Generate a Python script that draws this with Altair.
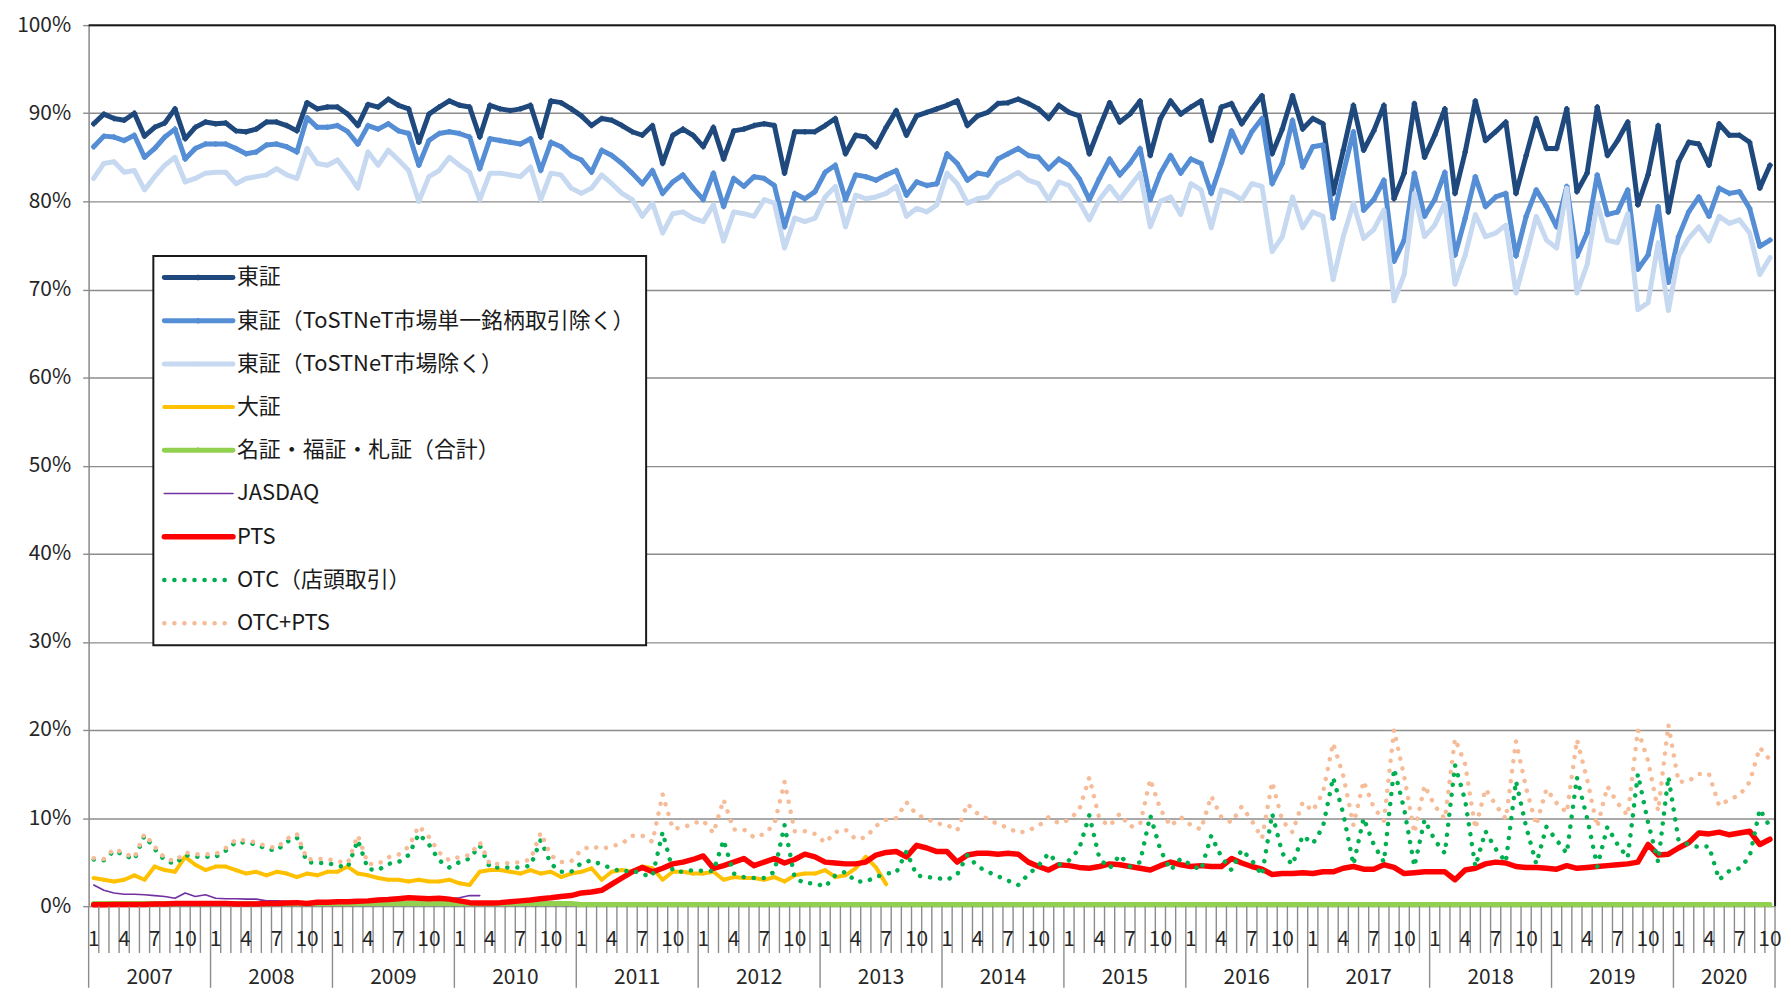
import altair as alt
import pandas as pd

# ---------------- data (monthly, Jan 2007 .. Oct 2020) ----------------
start_year = 2007
n_months = 166
years = list(range(2007, 2021))
shown_months = [1, 4, 7, 10]

tse = [
    88.8, 89.9, 89.4, 89.2, 90.0, 87.4, 88.4, 88.9, 90.5, 87.1, 88.4, 89.0,
    88.8, 88.9, 88.0, 87.9, 88.2, 89.0, 89.0, 88.6, 88.0, 91.2, 90.5, 90.7,
    90.7, 89.9, 88.6, 91.0, 90.7, 91.6, 90.9, 90.5, 86.7, 89.9, 90.7, 91.4,
    90.9, 90.7, 87.3, 90.9, 90.5, 90.3, 90.5, 90.9, 87.3, 91.4, 91.2, 90.5,
    89.7, 88.6, 89.4, 89.2, 88.6, 87.9, 87.5, 88.6, 84.3, 87.5, 88.2, 87.5,
    86.2, 88.4, 84.8, 88.0, 88.2, 88.6, 88.8, 88.6, 83.2, 87.9, 87.9, 87.9,
    88.6, 89.4, 85.4, 87.5, 87.3, 86.2, 88.4, 90.3, 87.5, 89.7, 90.1, 90.5,
    90.9, 91.4, 88.6, 89.7, 90.1, 91.1, 91.2, 91.6, 91.1, 90.5, 89.4, 90.9,
    90.1, 89.7, 85.4, 88.4, 91.2, 89.0, 89.9, 91.4, 85.2, 89.4, 91.4, 89.9,
    90.7, 91.4, 86.9, 90.7, 91.1, 88.8, 90.5, 92.0, 85.4, 88.2, 92.0, 88.2,
    89.4, 88.8, 80.9, 85.8, 90.9, 85.8, 88.0, 90.9, 80.3, 83.2, 91.1, 85.0,
    87.5, 90.5, 80.9, 85.6, 91.4, 86.9, 87.9, 89.0, 80.9, 85.2, 89.4, 86.0,
    86.0, 90.5, 81.1, 83.2, 90.7, 85.2, 86.9, 89.0, 79.6, 83.0, 88.6, 78.8,
    84.5, 86.7, 86.5, 84.1, 88.8, 87.5, 87.5, 86.7, 81.5, 84.1,
]

tse_ex_single = [
    86.2, 87.4, 87.3, 86.9, 87.5, 85.0, 86.0, 87.3, 88.2, 84.8, 86.0, 86.5,
    86.5, 86.5, 86.0, 85.4, 85.6, 86.4, 86.5, 86.2, 85.6, 89.5, 88.4, 88.4,
    88.6, 87.9, 86.5, 88.6, 88.2, 88.8, 88.0, 87.7, 84.1, 86.9, 87.7, 87.9,
    87.7, 87.3, 83.7, 87.1, 86.9, 86.7, 86.5, 87.1, 83.5, 86.7, 86.2, 85.2,
    84.7, 83.3, 85.8, 85.2, 84.3, 83.2, 82.0, 83.5, 80.9, 82.2, 83.0, 81.5,
    80.2, 83.2, 79.4, 82.6, 81.7, 82.8, 82.6, 81.8, 77.1, 80.9, 80.3, 81.1,
    83.3, 84.1, 80.2, 83.0, 82.8, 82.4, 83.0, 83.5, 80.7, 82.2, 81.8, 82.0,
    85.4, 84.3, 82.4, 83.2, 83.0, 84.8, 85.4, 86.0, 85.2, 85.0, 83.7, 84.8,
    84.1, 82.6, 80.2, 82.6, 84.8, 83.0, 84.3, 86.0, 80.2, 83.2, 85.2, 83.2,
    84.8, 84.3, 80.9, 84.3, 88.0, 85.6, 87.9, 89.4, 82.0, 84.3, 89.2, 83.9,
    86.2, 86.4, 78.1, 83.2, 87.9, 79.0, 80.2, 82.4, 73.2, 75.6, 83.2, 78.3,
    80.2, 83.3, 73.9, 78.1, 82.8, 79.4, 80.5, 80.9, 73.8, 78.3, 81.3, 79.4,
    77.1, 81.7, 73.8, 76.4, 83.0, 78.5, 78.8, 81.3, 72.3, 73.9, 79.4, 70.8,
    76.0, 78.8, 80.5, 78.3, 81.5, 80.9, 81.1, 79.2, 74.9, 75.6,
]

tse_ex_tostnet = [
    82.6, 84.3, 84.5, 83.3, 83.5, 81.3, 82.8, 84.1, 85.0, 82.2, 82.6, 83.2,
    83.3, 83.3, 82.0, 82.6, 82.8, 83.0, 83.7, 83.0, 82.6, 86.0, 84.3, 84.1,
    84.7, 83.2, 81.5, 85.6, 84.1, 85.8, 84.7, 83.5, 80.0, 82.8, 83.5, 85.0,
    84.1, 83.3, 80.2, 83.2, 83.2, 83.0, 82.8, 83.9, 80.2, 83.2, 83.0, 81.5,
    80.9, 81.5, 83.0, 82.0, 80.9, 80.2, 78.3, 79.8, 76.4, 78.6, 78.8, 78.1,
    77.7, 79.6, 75.5, 78.8, 78.6, 78.3, 80.2, 79.8, 74.7, 78.1, 77.7, 78.1,
    80.5, 81.7, 77.1, 80.7, 80.3, 80.5, 80.9, 81.7, 78.3, 79.2, 78.8, 79.6,
    83.2, 82.0, 79.8, 80.3, 80.5, 82.0, 82.6, 83.3, 82.4, 82.0, 80.2, 82.2,
    81.8, 80.0, 77.9, 80.2, 81.7, 80.2, 81.7, 83.2, 77.1, 80.0, 80.5, 78.5,
    82.0, 81.3, 77.0, 81.3, 80.9, 80.2, 82.0, 81.7, 74.3, 76.0, 80.5, 77.0,
    78.8, 78.3, 71.1, 76.0, 79.8, 75.8, 76.8, 79.0, 68.7, 71.7, 80.9, 76.0,
    77.3, 79.8, 70.6, 73.9, 78.5, 76.0, 76.4, 77.3, 69.6, 73.8, 78.3, 75.6,
    74.7, 81.5, 69.6, 72.8, 79.8, 75.6, 75.3, 78.6, 67.7, 68.5, 75.3, 67.6,
    73.8, 75.8, 77.1, 75.5, 78.3, 77.5, 77.9, 76.4, 71.7, 73.6,
]

osaka = [
    3.2, 3.0, 2.8, 3.0, 3.5, 3.0, 4.5, 4.1, 3.9, 5.6, 4.7, 4.1,
    4.5, 4.5, 4.1, 3.7, 3.9, 3.5, 3.9, 3.7, 3.3, 3.7, 3.5, 3.9,
    3.9, 4.5, 3.7, 3.5, 3.2, 3.0, 3.0, 2.8, 3.0, 2.8, 2.8, 3.0,
    2.6, 2.4, 3.9, 4.1, 4.1, 3.9, 3.7, 4.1, 3.7, 3.9, 3.3, 3.7,
    3.9, 4.3, 3.0, 3.9, 4.1, 3.9, 4.5, 4.3, 3.0, 3.9, 3.9, 3.7,
    3.7, 3.9, 3.0, 3.3, 3.2, 3.2, 3.0, 3.3, 2.8, 3.5, 3.7, 3.7,
    4.1, 3.3, 3.5, 4.3, 5.6, 4.4, 2.5,
]

regional = [
    0.3, 0.3, 0.3, 0.3, 0.3, 0.3, 0.3, 0.3, 0.3, 0.3, 0.3, 0.3,
    0.3, 0.3, 0.3, 0.3, 0.3, 0.3, 0.3, 0.3, 0.3, 0.3, 0.3, 0.3,
    0.3, 0.3, 0.3, 0.3, 0.3, 0.3, 0.3, 0.3, 0.3, 0.3, 0.3, 0.3,
    0.3, 0.3, 0.3, 0.3, 0.3, 0.3, 0.3, 0.3, 0.3, 0.3, 0.3, 0.3,
    0.2, 0.2, 0.2, 0.2, 0.2, 0.2, 0.2, 0.2, 0.2, 0.2, 0.2, 0.2,
    0.2, 0.2, 0.2, 0.2, 0.2, 0.2, 0.2, 0.2, 0.2, 0.2, 0.2, 0.2,
    0.2, 0.2, 0.2, 0.2, 0.2, 0.2, 0.2, 0.2, 0.2, 0.2, 0.2, 0.2,
    0.2, 0.2, 0.2, 0.2, 0.2, 0.2, 0.2, 0.2, 0.2, 0.2, 0.2, 0.2,
    0.2, 0.2, 0.2, 0.2, 0.2, 0.2, 0.2, 0.2, 0.2, 0.2, 0.2, 0.2,
    0.2, 0.2, 0.2, 0.2, 0.2, 0.2, 0.2, 0.2, 0.2, 0.2, 0.2, 0.2,
    0.2, 0.2, 0.2, 0.2, 0.2, 0.2, 0.2, 0.2, 0.2, 0.2, 0.2, 0.2,
    0.2, 0.2, 0.2, 0.2, 0.2, 0.2, 0.2, 0.2, 0.2, 0.2, 0.2, 0.2,
    0.2, 0.2, 0.2, 0.2, 0.2, 0.2, 0.2, 0.2, 0.2, 0.2, 0.2, 0.2,
    0.2, 0.2, 0.2, 0.2, 0.2, 0.2, 0.2, 0.2, 0.2, 0.2,
]

jasdaq = [
    2.4, 1.8, 1.5, 1.35, 1.35, 1.3, 1.2, 1.1, 0.9, 1.5, 1.1, 1.3,
    0.9, 0.85, 0.85, 0.8, 0.8, 0.6, 0.6, 0.55, 0.5, 0.5, 0.5, 0.5,
    0.5, 0.5, 0.55, 0.6, 0.7, 0.75, 0.85, 0.95, 0.9, 0.85, 0.9, 0.85,
    0.95, 1.2, 1.2,
]

pts = [
    0.15, 0.15, 0.2, 0.2, 0.2, 0.2, 0.25, 0.25, 0.3, 0.3, 0.3, 0.3,
    0.3, 0.3, 0.25, 0.25, 0.25, 0.3, 0.3, 0.35, 0.4, 0.3, 0.45, 0.45,
    0.5, 0.5, 0.55, 0.6, 0.7, 0.75, 0.85, 0.95, 0.9, 0.85, 0.9, 0.8,
    0.6, 0.4, 0.35, 0.35, 0.4, 0.5, 0.6, 0.7, 0.85, 0.95, 1.1, 1.2,
    1.5, 1.6, 1.8, 2.5, 3.2, 3.9, 4.4, 3.9, 4.3, 4.8, 5.0, 5.3,
    5.7, 4.3, 4.6, 5.0, 5.4, 4.6, 5.0, 5.4, 4.9, 5.3, 5.9, 5.6,
    5.0, 4.9, 4.8, 4.8, 5.0, 5.8, 6.1, 6.2, 5.6, 6.9, 6.6, 6.2,
    6.2, 5.0, 5.8, 6.0, 6.0, 5.9, 6.0, 5.9, 5.0, 4.5, 4.1, 4.7,
    4.6, 4.4, 4.3, 4.5, 4.8, 4.7, 4.5, 4.3, 4.1, 4.6, 5.0, 4.7,
    4.5, 4.6, 4.5, 4.5, 5.4, 4.9, 4.5, 4.2, 3.6, 3.7, 3.7, 3.8,
    3.7, 3.9, 3.9, 4.3, 4.5, 4.2, 4.2, 4.7, 4.4, 3.7, 3.8, 3.9,
    3.9, 3.9, 3.0, 4.1, 4.3, 4.8, 5.0, 4.9, 4.5, 4.4, 4.4, 4.3,
    4.2, 4.6, 4.3, 4.4, 4.5, 4.6, 4.7, 4.8, 5.0, 7.0, 5.8, 5.9,
    6.6, 7.2, 8.3, 8.2, 8.4, 8.1, 8.3, 8.5, 7.0, 7.6,
]

otc = [
    5.3, 5.2, 6.3, 5.8, 5.3, 8.0, 6.5, 5.2, 4.8, 5.8, 5.6, 5.6,
    5.6, 6.3, 7.3, 7.2, 7.0, 6.5, 6.3, 7.3, 7.8, 5.0, 4.9, 4.9,
    4.6, 4.4, 7.5, 4.2, 4.1, 4.8, 5.0, 5.8, 8.2, 7.0, 5.2, 4.4,
    5.0, 5.4, 6.9, 4.4, 4.4, 4.4, 4.4, 4.6, 7.5, 4.8, 3.9, 3.9,
    4.9, 5.2, 4.7, 4.3, 3.9, 4.1, 3.6, 3.4, 8.4, 4.0, 3.9, 4.1,
    4.0, 4.0, 7.5, 3.7, 3.3, 3.2, 3.2, 3.9, 9.2, 3.2, 2.6, 2.6,
    2.2, 3.5, 3.9, 2.8, 2.8, 3.3, 3.7, 3.8, 6.2, 3.5, 3.3, 3.2,
    3.0, 3.6, 5.8, 4.5, 3.9, 3.4, 2.9, 2.4, 3.6, 4.6, 6.0, 4.7,
    5.2, 6.5, 10.3, 5.4, 4.3, 5.8, 4.5, 5.0, 10.3, 6.4, 4.1, 5.4,
    4.7, 4.1, 8.0, 5.6, 4.1, 6.4, 5.2, 3.5, 10.5, 6.0, 4.7, 8.0,
    7.1, 9.0, 14.6, 10.5, 4.7, 10.0, 7.0, 5.0, 15.6, 11.0, 4.5, 9.8,
    7.5, 6.0, 16.0, 12.0, 4.5, 8.5, 6.5, 5.0, 14.2, 9.0, 4.8, 9.0,
    7.5, 6.0, 14.6, 10.0, 4.5, 9.0, 7.0, 5.5, 15.0, 9.5, 5.0, 14.7,
    7.5, 7.0, 6.7, 6.8, 3.0, 4.0, 4.3, 5.6, 11.0, 9.0,
]

# OTC+PTS is, by definition, the sum of the two series above
otc_pts = [round(a + b, 2) for a, b in zip(otc, pts)]

series_names = [
    "東証",
    "東証（ToSTNeT市場単一銘柄取引除く）",
    "東証（ToSTNeT市場除く）",
    "大証",
    "名証・福証・札証（合計）",
    "JASDAQ",
    "PTS",
    "OTC（店頭取引）",
    "OTC+PTS",
]
series_values = [tse, tse_ex_single, tse_ex_tostnet, osaka, regional,
                 jasdaq, pts, otc, otc_pts]

# ---------------- styles ----------------
colors = ["#1F497D", "#558ED5", "#C6D9F1", "#FFC000", "#92D050",
          "#7030A0", "#FF0000", "#00B050", "#F6BC98"]
widths = [5.0, 5.0, 5.0, 4.0, 5.0, 1.6, 5.5, 4.5, 4.5]
dashes = [None, None, None, None, None, None, None, [0.1, 10], [0.1, 10]]
markers = ["cross", "cross", "cross", "diamond", "triangle-up",
           None, None, None, None]
marker_sizes = [30, 30, 20, 22, 40, 0, 0, 0, 0]

W = 1694
H = 885
GRID = "#8C8C8C"
FONT = "Noto Sans CJK JP"
TXT = "#262626"

x_scale = alt.Scale(domain=[0, n_months], nice=False, zero=False)
y_scale = alt.Scale(domain=[0, 100], nice=False)
y_axis = alt.Axis(
    values=list(range(0, 101, 10)), labelExpr="datum.value + '%'",
    title=None, grid=True, gridColor=GRID, gridWidth=1.4,
    domainColor=GRID, domainWidth=1.5, tickColor=GRID, tickWidth=1.4,
    tickSize=6, labelFont=FONT, labelFontSize=21, labelColor=TXT,
    labelPadding=12,
)

layers = []
for name, vals, col, w, dash, mk, ms in zip(series_names, series_values,
                                            colors, widths, dashes,
                                            markers, marker_sizes):
    df = pd.DataFrame({"t": [i + 0.5 for i in range(len(vals))],
                       "v": vals, "series": name})
    kw = dict(color=col, strokeWidth=w, strokeJoin="round", strokeCap="round")
    if dash:
        kw["strokeDash"] = dash
    base = alt.Chart(df).encode(
        x=alt.X("t:Q", scale=x_scale, axis=None),
        y=alt.Y("v:Q", scale=y_scale, axis=y_axis),
    )
    layers.append(base.mark_line(**kw))
    if mk:
        layers.append(base.mark_point(shape=mk, filled=True, size=ms,
                                      color=col, opacity=1))

# plot frame (top / right in black)
one = pd.DataFrame({"a": [0]})
layers.append(alt.Chart(one).mark_rule(color="#1A1A1A", strokeWidth=2).encode(
    x=alt.value(0), x2=alt.value(W), y=alt.value(0)))
layers.append(alt.Chart(one).mark_rule(color="#1A1A1A", strokeWidth=2).encode(
    x=alt.value(W), y=alt.value(0), y2=alt.value(H)))

# category axis: month boundaries, month labels, year labels
bounds = pd.DataFrame({"b": list(range(n_months + 1))})
bounds["year_edge"] = [b % 12 == 0 or b == n_months for b in bounds["b"]]
layers.append(alt.Chart(bounds).transform_filter("!datum.year_edge").mark_rule(
    color=GRID, strokeWidth=1.4).encode(
    x=alt.X("b:Q", scale=x_scale, axis=None),
    y=alt.value(H), y2=alt.value(H + 47)))
layers.append(alt.Chart(bounds).transform_filter("datum.year_edge").mark_rule(
    color=GRID, strokeWidth=1.4).encode(
    x=alt.X("b:Q", scale=x_scale, axis=None),
    y=alt.value(H), y2=alt.value(H + 82)))

months = pd.DataFrame({"i": list(range(n_months))})
months["t"] = months["i"] + 0.5
months["m"] = months["i"] % 12 + 1
months = months[months["m"].isin(shown_months)]
months["lab"] = months["m"].astype(str)
layers.append(alt.Chart(months).mark_text(
    font=FONT, fontSize=21, color=TXT, baseline="middle", align="center").encode(
    x=alt.X("t:Q", scale=x_scale, axis=None), y=alt.value(H + 34),
    text="lab:N"))

yr_rows = []
for k, yr in enumerate(years):
    s = k * 12
    e = min(s + 12, n_months)
    yr_rows.append({"yr": str(yr), "t": (s + e) / 2})
yr_df = pd.DataFrame(yr_rows)
layers.append(alt.Chart(yr_df).mark_text(
    font=FONT, fontSize=21, color=TXT, baseline="alphabetic", align="center").encode(
    x=alt.X("t:Q", scale=x_scale, axis=None), y=alt.value(H + 78),
    text="yr:N"))

# ---------------- legend ----------------
LX0, LX1, LY0, LY1 = 65, 560, 232, 623
layers.append(alt.Chart(one).mark_rect(fill="white", stroke="#1A1A1A",
                                       strokeWidth=2).encode(
    x=alt.value(LX0), x2=alt.value(LX1), y=alt.value(LY0), y2=alt.value(LY1)))
ROW0, ROWH = 253.5, 43.4
for k, (name, col, w, dash, mk, ms) in enumerate(zip(series_names, colors, widths,
                                                     dashes, markers, marker_sizes)):
    yk = ROW0 + ROWH * k
    kw = dict(color=col, strokeWidth=w, strokeCap="round")
    if dash:
        kw["strokeDash"] = dash
    layers.append(alt.Chart(one).mark_rule(**kw).encode(
        x=alt.value(76), x2=alt.value(145), y=alt.value(yk)))
    if mk:
        layers.append(alt.Chart(one).mark_point(shape=mk, filled=True, size=ms,
                                                color=col, opacity=1).encode(
            x=alt.value(110), y=alt.value(yk - (1 if k == 4 else 0))))
    layers.append(alt.Chart(pd.DataFrame({"lab": [name]})).mark_text(
        font=FONT, fontSize=22, color="#1A1A1A", align="left",
        baseline="middle").encode(
        x=alt.value(149), y=alt.value(yk), text="lab:N"))

chart = alt.layer(*layers).properties(
    width=W, height=H,
    padding={"left": 81, "top": 15, "right": 8, "bottom": 82},
    autosize=alt.AutoSizeParams(type="none"),
).configure_view(stroke=None).configure(font=FONT)

chart.save("out.html", embed_options={"renderer": "svg", "actions": False})
